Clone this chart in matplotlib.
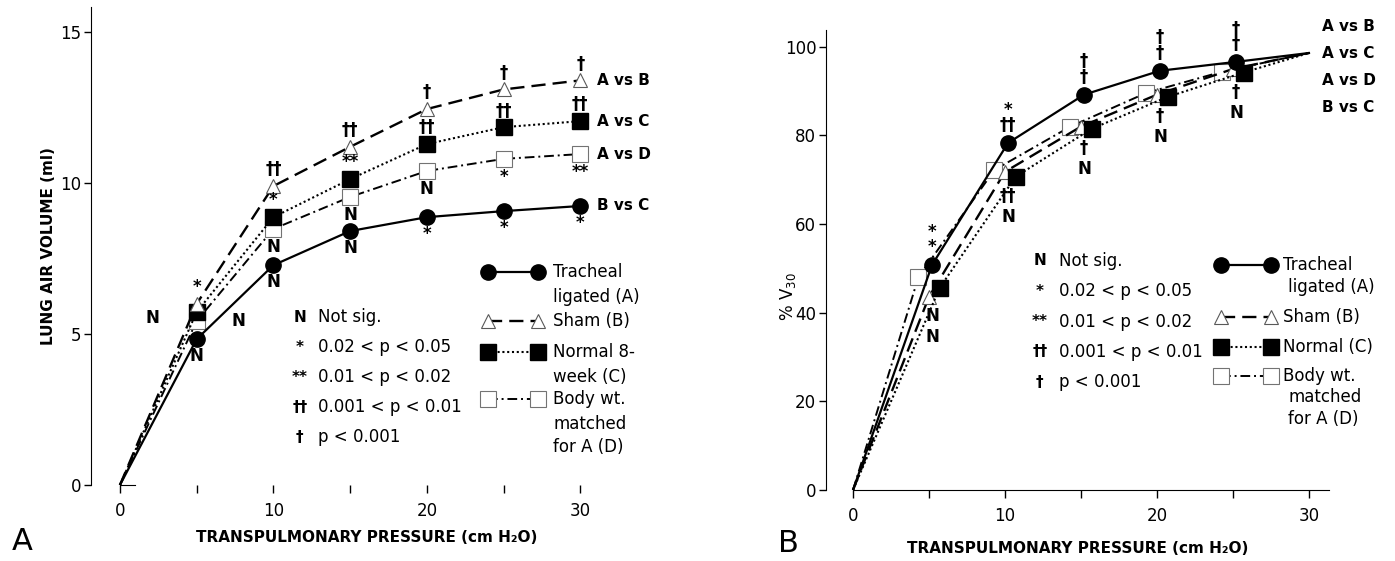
import numpy as np
import matplotlib
matplotlib.use('Agg')
import matplotlib.pyplot as plt

plt.rcParams['font.family'] = ['DejaVu Sans']

pressure = [0, 5, 10, 15, 20, 25, 30]  # cm H2O

# panel A: lung air volume (ml)
vol_tracheal = [0, 4.83, 7.28, 8.41, 8.87, 9.07, 9.24]
vol_sham = [0, 6.0, 9.9, 11.2, 12.45, 13.1, 13.4]
vol_normal = [0, 5.73, 8.87, 10.13, 11.29, 11.85, 12.05]
vol_bodywt = [0, 5.43, 8.48, 9.54, 10.4, 10.8, 10.96]

# panel B: % of V30
pct_tracheal = [0, 50.8, 78.3, 89.2, 94.6, 96.6, 98.6]
pct_sham = [0, 43.6, 71.8, 82.0, 89.2, 95.0, 98.6]
pct_normal = [0, 45.6, 70.7, 81.5, 88.7, 94.2, 98.6]
pct_bodywt = [0, 48.0, 72.2, 82.0, 89.6, 94.4, 98.6]

# significance marks at 5..30 (panel A) and 5..25 (panel B)
sigA_ab = ['*', '††', '††', '†', '†', '†']
sigA_ac = ['N', '*', '**', '††', '††', '††']
sigA_ad = ['N', 'N', 'N', 'N', '*', '**']
sigA_bc = ['N', 'N', 'N', '*', '*', '*']

sigB_ab = ['*', '*', '†', '†', '†']
sigB_ac = ['*', '††', '†', '†', '†']
sigB_ad = ['N', '††', '†', '†', '†']
sigB_bc = ['N', 'N', 'N', 'N', 'N']

key_sym = ['N', '*', '**', '††', '†']
key_txt = ['Not sig.', '0.02 < p < 0.05', '0.01 < p < 0.02', '0.001 < p < 0.01', 'p < 0.001']
comparisons = ['A vs B', 'A vs C', 'A vs D', 'B vs C']

styles = {
    'A': dict(color='black', ls='-', lw=1.6, marker='o', ms=11, mfc='black', mec='black'),
    'B': dict(color='black', ls=(0, (6, 3)), lw=1.7, marker='^', ms=10, mfc='white', mec='0.35', mew=0.8),
    'C': dict(color='black', ls=(0, (1, 1.3)), lw=1.5, marker='s', ms=11, mfc='black', mec='black'),
    'D': dict(color='black', ls=(0, (5, 2, 1, 2)), lw=1.4, marker='s', ms=11, mfc='white', mec='0.45', mew=0.8),
}

fig = plt.figure(figsize=(13.95, 5.61), dpi=100)
axA = fig.add_axes([0.0652, 0.1355, 0.4366, 0.852])
axB = fig.add_axes([0.5921, 0.1266, 0.4079, 0.82])

for ax in (axA, axB):
    ax.spines['top'].set_visible(False)
    ax.spines['right'].set_visible(False)
    ax.tick_params(labelsize=12, width=1, length=5, direction='out')

# ---------------- panel A ----------------
x = np.array(pressure, dtype=float)
series_A = [('D', vol_bodywt), ('C', vol_normal), ('B', vol_sham), ('A', vol_tracheal)]
for key, y in series_A:
    axA.plot(x, y, markevery=list(range(1, 7)), zorder=3, **styles[key])

axA.set_xlim(-1.89, 37.8)
axA.set_ylim(0, 15.83)
axA.spines['bottom'].set_bounds(0, 1)
axA.spines['left'].set_bounds(0, 15.83)
axA.set_xticks([0, 5, 10, 15, 20, 25, 30])
axA.set_xticklabels(['0', '', '10', '', '20', '', '30'])
axA.set_yticks([0, 5, 10, 15])
axA.tick_params(axis='x', pad=6, length=6)
axA.tick_params(axis='y', pad=2)
axA.set_ylabel('LUNG AIR VOLUME (ml)', fontsize=11, fontweight='bold')
axA.yaxis.set_label_coords(-0.058, 0.5)
axA.set_xlabel('TRANSPULMONARY PRESSURE (cm H₂O)', fontsize=11, fontweight='bold')
axA.xaxis.set_label_coords(0.453, -0.095)

def mark(ax, txt, xy, dx, dy, size=12):
    ax.annotate(txt, xy=xy, xytext=(dx, dy), textcoords='offset points',
                ha='center', va='center', fontsize=size, fontweight='bold', zorder=5)

for i in range(1, 7):
    j = i - 1
    xi = x[i]
    mark(axA, sigA_ab[j], (xi, vol_sham[i]), 0, 12)
    if i == 1:
        mark(axA, sigA_ac[j], (xi, vol_normal[i]), -32, -4)
        mark(axA, sigA_ad[j], (xi, vol_bodywt[i]), 30, 0)
    else:
        mark(axA, sigA_ac[j], (xi, vol_normal[i]), 0, 12)
        mark(axA, sigA_ad[j], (xi, vol_bodywt[i]), 0, -13)
    mark(axA, sigA_bc[j], (xi, vol_tracheal[i]), 0, -12)

for lbl, y in zip(comparisons, [vol_sham, vol_normal, vol_bodywt, vol_tracheal]):
    axA.annotate(lbl, xy=(x[-1], y[-1]), xytext=(12, 0), textcoords='offset points',
                 ha='left', va='center', fontsize=11, fontweight='bold')

# significance key A
for k, (s, t) in enumerate(zip(key_sym, key_txt)):
    yy = 0.351 - k * 0.0628
    axA.text(0.343, yy, s, transform=axA.transAxes, ha='center', va='center', fontsize=11, fontweight='bold')
    axA.text(0.373, yy, t, transform=axA.transAxes, ha='left', va='center', fontsize=12)

# legend A
legA = [('A', ['Tracheal', 'ligated (A)']), ('B', ['Sham (B)']),
        ('C', ['Normal 8-', 'week (C)']), ('D', ['Body wt.', 'matched', 'for A (D)'])]
rowsA = [[0.446, 0.393], [0.343], [0.278, 0.226], [0.180, 0.128, 0.079]]
for (key, lines), ys in zip(legA, rowsA):
    axA.plot([0.652, 0.734], [ys[0], ys[0]], transform=axA.transAxes, clip_on=False, **styles[key])
    for t, yy in zip(lines, ys):
        axA.text(0.759, yy, t, transform=axA.transAxes, ha='left', va='center', fontsize=12)

# ---------------- panel B ----------------
mid = np.array([0, 1, 1, 1, 1, 1, 0])
offs = {'A': 0.2, 'B': 0.0, 'C': 0.7, 'D': -0.7}
series_B = [('D', pct_bodywt), ('B', pct_sham), ('C', pct_normal), ('A', pct_tracheal)]
for key, y in series_B:
    axB.plot(x + offs[key] * mid, y, markevery=list(range(1, 6)), zorder=3, **styles[key])

axB.set_xlim(-1.78, 35.66)
axB.set_ylim(0, 103.8)
axB.spines['bottom'].set_bounds(0, 31.3)
axB.set_xticks([0, 5, 10, 15, 20, 25, 30])
axB.set_xticklabels(['0', '', '10', '', '20', '', '30'])
axB.set_yticks([0, 20, 40, 60, 80, 100])
axB.tick_params(axis='x', pad=6, length=6)
axB.tick_params(axis='y', pad=2)
axB.set_ylabel('% V$_{30}$', fontsize=12)
axB.yaxis.set_label_coords(-0.05, 0.42)
axB.set_xlabel('TRANSPULMONARY PRESSURE (cm H₂O)', fontsize=11, fontweight='bold')
axB.xaxis.set_label_coords(0.443, -0.112)

for i in range(1, 6):
    j = i - 1
    xa = x[i] + offs['A']
    top = (xa, pct_tracheal[i])
    low = (xa, min(pct_sham[i], pct_normal[i], pct_bodywt[i]))
    mark(axB, sigB_ab[j], top, 0, 24)
    mark(axB, sigB_ac[j], top, 0, 13)
    mark(axB, sigB_ad[j], low, 0, -14)
    mark(axB, sigB_bc[j], low, 0, -29)

for k, lbl in enumerate(comparisons):
    axB.text(0.872, 1.007 - k * 0.0587, lbl, transform=axB.transAxes,
             ha='left', va='center', fontsize=11, fontweight='bold')

for k, (s, t) in enumerate(zip(key_sym, key_txt)):
    yy = 0.498 - k * 0.066
    axB.text(0.376, yy, s, transform=axB.transAxes, ha='center', va='center', fontsize=11, fontweight='bold')
    axB.text(0.409, yy, t, transform=axB.transAxes, ha='left', va='center', fontsize=12)

legB = [('A', ['Tracheal', 'ligated (A)']), ('B', ['Sham (B)']),
        ('C', ['Normal (C)']), ('D', ['Body wt.', 'matched', 'for A (D)'])]
rowsB = [[0.489, 0.441], [0.376], [0.311], [0.248, 0.202, 0.154]]
for (key, lines), ys in zip(legB, rowsB):
    axB.plot([0.694, 0.782], [ys[0], ys[0]], transform=axB.transAxes, clip_on=False, **styles[key])
    for n, (t, yy) in enumerate(zip(lines, ys)):
        axB.text(0.803 if n == 0 else 0.812, yy, t, transform=axB.transAxes,
                 ha='left', va='center', fontsize=12)

fig.text(22 / 1395, 1 - 541 / 561, 'A', fontsize=22, ha='center', va='center')
fig.text(788 / 1395, 1 - 544 / 561, 'B', fontsize=22, ha='center', va='center')

fig.savefig('out.png', dpi=100)
